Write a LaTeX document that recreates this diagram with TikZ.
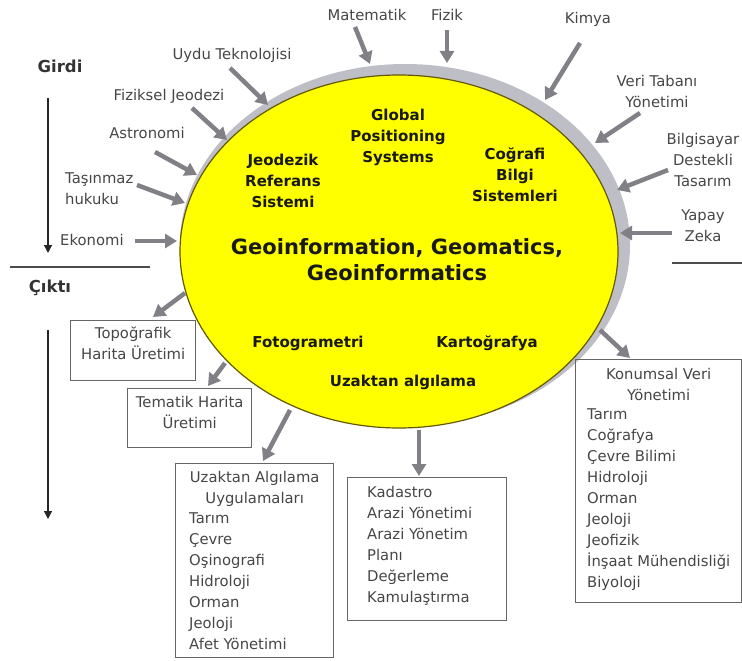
\documentclass[tikz,border=0pt]{standalone}
\usepackage{fontspec}
\setmainfont{DejaVu Sans}
\usetikzlibrary{arrows.meta,positioning,shapes.geometric}
\definecolor{arrowgray}{RGB}{128,128,134}
\definecolor{rimgray}{RGB}{190,190,198}
\definecolor{textgray}{RGB}{70,70,70}
\definecolor{geoedge}{RGB}{100,88,0}
\definecolor{geoyellow}{RGB}{255,255,0}
\begin{document}
\begin{tikzpicture}
  [x=1pt,y=-1pt,
   garrow/.style={draw=arrowgray,line width=4.5pt,-{Triangle[length=12pt,width=14pt]}},
   flow/.style={draw=black!85,line width=1.2pt,-{Triangle[length=8pt,width=8pt]}},
   inlabel/.style={text=textgray,font=\fontsize{14.8}{21}\selectfont,align=center,inner sep=0pt},
   geolabel/.style={text=black!90,font=\bfseries\fontsize{15}{21}\selectfont,align=center,inner sep=0pt},
   box/.style={draw=black!60,line width=1.4pt,inner sep=0pt,anchor=north west},
   boxtext/.style={text=textgray,font=\fontsize{14.8}{21}\selectfont,inner sep=0pt}]
  \useasboundingbox (0,0) rectangle (742,661);

  % yellow ellipse with its grey rim
  \fill[rimgray] (405,245) ellipse [x radius=225,y radius=181];
  \node[ellipse,fill=geoyellow,draw=geoedge,line width=1.2pt,inner sep=0pt,
        minimum width=438pt,minimum height=353pt] (geo) at (399,251.5) {};

  \node[geolabel] (gps) at (398,137) {Global\\Positioning\\Systems};
  \node[geolabel] (jrs) at (283,181) {Jeodezik\\Referans\\Sistemi};
  \node[geolabel] (cbs) at (515,175) {Coğrafi\\Bilgi\\Sistemleri};
  \node[geolabel,font=\bfseries\fontsize{21}{26}\selectfont] (main) at (397,260)
    {Geoinformation, Geomatics,\\Geoinformatics};
  \node[geolabel] (foto) at (308,343) {Fotogrametri};
  \node[geolabel] (karto) at (487,343) {Kartoğrafya};
  \node[geolabel] (uzak) at (403,382) {Uzaktan algılama};

  % inputs
  \node[inlabel] (mat) at (367,15) {Matematik};
  \node[inlabel] (fiz) at (447,15) {Fizik};
  \node[inlabel] (kim) at (588,19) {Kimya};
  \node[inlabel] (vtb) at (657,91) {Veri Tabanı\\Yönetimi};
  \node[inlabel] (bdt) at (703,160) {Bilgisayar\\Destekli\\Tasarım};
  \node[inlabel] (yz) at (703,226) {Yapay\\Zeka};
  \node[inlabel] (uydu) at (232,55) {Uydu Teknolojisi};
  \node[inlabel] (fjeo) at (169,96) {Fiziksel Jeodezi};
  \node[inlabel] (astr) at (147,133) {Astronomi};
  \node[inlabel,align=left,anchor=west] (tas) at (65,189) {Taşınmaz\\hukuku};
  \node[inlabel,anchor=west] (eko) at (60,240) {Ekonomi};

  \coordinate (mat-s) at (355,27);   \coordinate (mat-e) at (370,64);
  \coordinate (fiz-s) at (447,30);   \coordinate (fiz-e) at (447,63);
  \coordinate (kim-s) at (580,43);   \coordinate (kim-e) at (545,100);
  \coordinate (vtb-s) at (640,113);  \coordinate (vtb-e) at (595,143);
  \coordinate (bdt-s) at (668,170);  \coordinate (bdt-e) at (617,190);
  \coordinate (yz-s) at (672,233);   \coordinate (yz-e) at (620,233);
  \coordinate (uydu-s) at (230,68);  \coordinate (uydu-e) at (268,105);
  \coordinate (fjeo-s) at (192,108); \coordinate (fjeo-e) at (227,140);
  \coordinate (astr-s) at (155,152); \coordinate (astr-e) at (197,175);
  \coordinate (tas-s) at (137,185);  \coordinate (tas-e) at (185,203);
  \coordinate (eko-s) at (135,241);  \coordinate (eko-e) at (177,241);

  \foreach \n in {mat,fiz,kim,vtb,bdt,yz,uydu,fjeo,astr,tas,eko}
    \draw[garrow] (\n-s) -- (\n-e);

  % outputs
  \node[box,minimum width=125pt,minimum height=60pt] (topo) at (70,320) {};
  \node[boxtext,align=center,below=7pt of topo.north] (topo-txt) {Topoğrafik\\Harita Üretimi};
  \node[box,minimum width=124pt,minimum height=59pt] (tem) at (127,388) {};
  \node[boxtext,align=center,below=8pt of tem.north] (tem-txt) {Tematik Harita\\Üretimi};
  \node[box,minimum width=158pt,minimum height=194pt] (uzk) at (175,463) {};
  \node[boxtext,align=center,below=8pt of uzk.north] (uzk-head) {Uzaktan Algılama\\Uygulamaları};
  \node[boxtext,align=left,below right=50pt and 14pt of uzk.north west] (uzk-list)
    {Tarım\\Çevre\\Oşinografi\\Hidroloji\\Orman\\Jeoloji\\Afet Yönetimi};
  \node[box,minimum width=159pt,minimum height=143pt] (kad) at (347,477) {};
  \node[boxtext,align=left,below right=9pt and 20pt of kad.north west] (kad-list)
    {Kadastro\\Arazi Yönetimi\\Arazi Yönetim\\Planı\\Değerleme\\Kamulaştırma};
  \node[box,minimum width=166pt,minimum height=243pt] (kon) at (575,359) {};
  \node[boxtext,align=center,below=9pt of kon.north] (kon-head) {Konumsal Veri\\Yönetimi};
  \node[boxtext,align=left,below right=50pt and 12pt of kon.north west] (kon-list)
    {Tarım\\Coğrafya\\Çevre Bilimi\\Hidroloji\\Orman\\Jeoloji\\Jeofizik\\İnşaat Mühendisliği\\Biyoloji};

  \coordinate (topo-s) at (185,293); \coordinate (topo-e) at (153,317);
  \coordinate (tem-s) at (225,363);  \coordinate (tem-e) at (208,386);
  \coordinate (uzk-s) at (290,410);  \coordinate (uzk-e) at (263,461);
  \coordinate (kad-s) at (419,430);  \coordinate (kad-e) at (419,476);
  \coordinate (kon-s) at (600,330);  \coordinate (kon-e) at (630,358);

  \foreach \n in {topo,tem,uzk,kad,kon}
    \draw[garrow] (\n-s) -- (\n-e);

  % Girdi / Cikti
  \node[font=\bfseries\fontsize{16.5}{20}\selectfont,text=black!80,inner sep=0pt] (girdi) at (60,66) {Girdi};
  \node[font=\bfseries\fontsize{16.5}{20}\selectfont,text=black!80,inner sep=0pt] (cikti) at (50,288) {Çıktı};
  \coordinate (girdi-s) at (48,98);  \coordinate (girdi-e) at (48,253);
  \coordinate (cikti-s) at (48,330); \coordinate (cikti-e) at (48,519);
  \foreach \n in {girdi,cikti}
    \draw[flow] (\n-s) -- (\n-e);
  \draw[black!70,line width=1.3pt] (10,267) -- (150,267);
  \draw[black!70,line width=1.3pt] (672,263) -- (742,263);

\end{tikzpicture}
\end{document}
